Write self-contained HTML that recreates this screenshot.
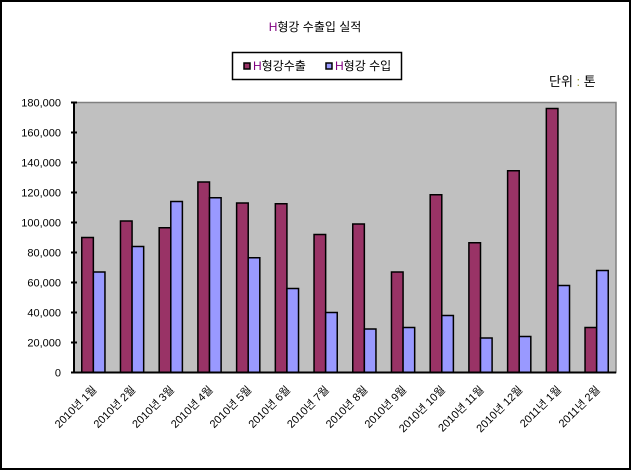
<!DOCTYPE html>
<html><head><meta charset="utf-8"><style>
body{margin:0;background:#fff}
svg{display:block;font-family:"Liberation Sans","Noto Sans CJK KR",sans-serif}
</style></head><body>
<svg id="c" width="631" height="470" viewBox="0 0 631 470">
<rect x="1" y="1" width="629" height="468" fill="#fff" stroke="#000" stroke-width="2"/>
<text x="315" y="31" font-size="12" text-anchor="middle"><tspan fill="#800080">H</tspan>형강 수출입 실적</text>
<g>
<rect x="232.5" y="52.5" width="169" height="27" fill="#fff" stroke="#000" stroke-width="1.5"/>
<g>
<rect x="244" y="63" width="6" height="6" fill="#993366" stroke="#000" stroke-width="1.5"/>
<text x="253" y="70" font-size="12"><tspan fill="#800080">H</tspan>형강수출</text></g>
<g>
<rect x="326" y="63" width="6" height="6" fill="#9999FF" stroke="#000" stroke-width="1.5"/>
<text x="335" y="70" font-size="12"><tspan fill="#800080">H</tspan>형강 수입</text></g>
</g>
<text x="549" y="86" font-size="13">단위 <tspan fill="#999933">:</tspan> 톤</text>
<rect x="74" y="102.5" width="542" height="270" fill="#C0C0C0" stroke="#808080" stroke-width="1.5"/>
<g id="bars"></g>
<g id="axes"></g>
</svg>
<script>
const categories=["2010년 1월","2010년 2월","2010년 3월","2010년 4월","2010년 5월","2010년 6월","2010년 7월","2010년 8월","2010년 9월","2010년 10월","2010년 11월","2010년 12월","2011년 1월","2011년 2월"];
const exportValues=[90000,101000,96500,127000,113000,112500,92000,99000,67000,118500,86500,134500,176000,30000];
const importValues=[67000,84000,114000,116500,76500,56000,40000,29000,30000,38000,23000,24000,58000,68000];
const yTicks=[0,20000,40000,60000,80000,100000,120000,140000,160000,180000];
const yTickLabels=["0","20,000","40,000","60,000","80,000","100,000","120,000","140,000","160,000","180,000"];
const NS="http://www.w3.org/2000/svg";
const X0=74,X1=616,Y0=372.5,Y1=102.5,YMAX=180000;
const cw=(X1-X0)/categories.length,bw=11.6;
const y=v=>Y0-(v/YMAX)*(Y0-Y1);
const xc=i=>X0+cw*(i+0.5);
function mk(t,a,p){const e=document.createElementNS(NS,t);for(const k in a)e.setAttribute(k,a[k]);p.appendChild(e);return e;}
const bars=document.getElementById('bars'),axes=document.getElementById('axes');
categories.forEach((c,i)=>{
 const r=mk('rect',{x:xc(i)-bw,y:y(exportValues[i]),width:bw,height:Y0-y(exportValues[i]),fill:'#993366',stroke:'#000','stroke-width':1.5},bars);
 
 
 const b=mk('rect',{x:xc(i),y:y(importValues[i]),width:bw,height:Y0-y(importValues[i]),fill:'#9999FF',stroke:'#000','stroke-width':1.5},bars);
 
 
 const t=mk('text',{x:xc(i)+4,y:Y0+18,'font-size':11,'text-anchor':'end',transform:`rotate(-45 ${xc(i)+4} ${Y0+18})`},axes);
 t.textContent=c;
 
 
});
const ax=mk('line',{x1:X0,y1:Y1,x2:X0,y2:Y0,stroke:'#000','stroke-width':2},axes);


const bx=mk('line',{x1:X0,y1:Y0,x2:X1,y2:Y0,stroke:'#000','stroke-width':2},axes);


yTicks.forEach((v,i)=>{
 mk('line',{x1:X0-3,y1:y(v),x2:X0+3,y2:y(v),stroke:'#000','stroke-width':2},axes);
 const t=mk('text',{x:X0-13,y:y(v)+4,'font-size':11,'text-anchor':'end',fill:'#000'},axes);
 t.textContent=yTickLabels[i];
 
 
});
</script>
</body></html>
